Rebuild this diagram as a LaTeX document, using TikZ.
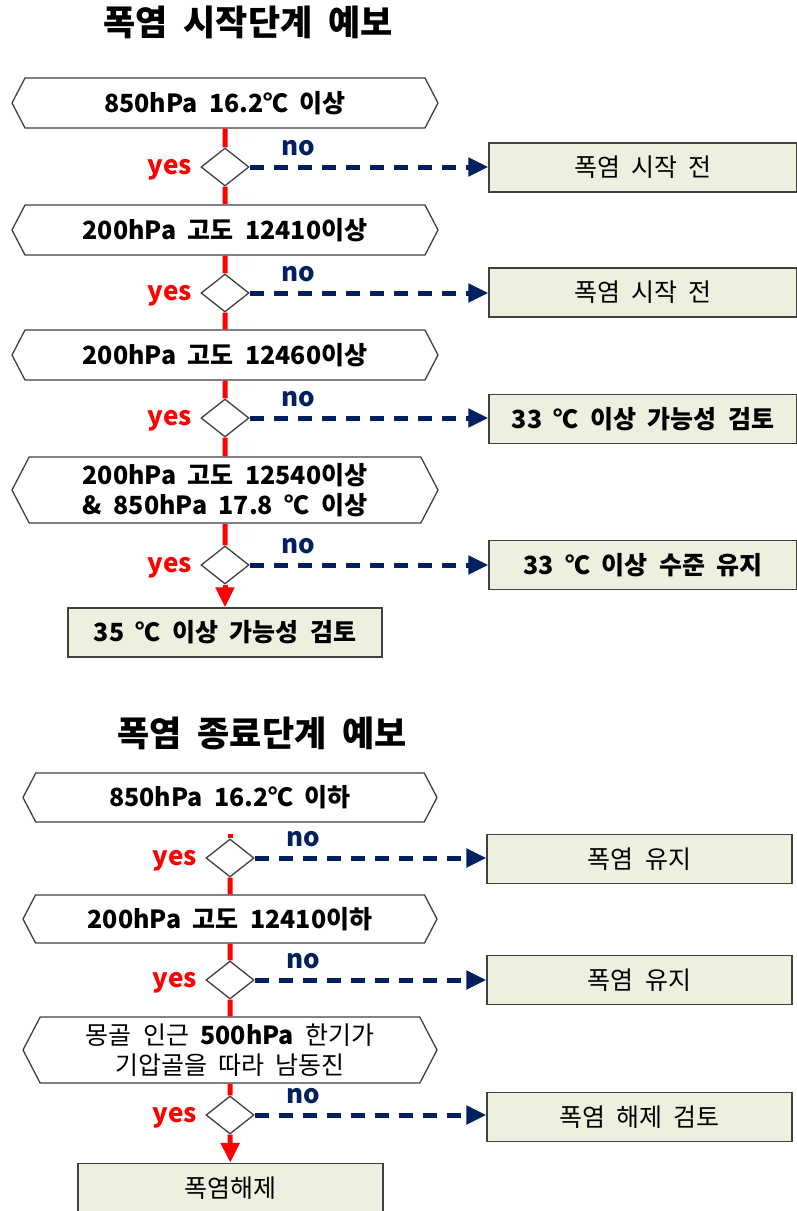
\documentclass[tikz,border=0pt]{standalone}
\usepackage{fontspec}
\setmainfont{Noto Sans CJK KR}[WordSpace=2]
\usetikzlibrary{shapes.symbols,shapes.geometric,arrows.meta,positioning}
\definecolor{navy}{RGB}{0,32,96}
\definecolor{boxgreen}{RGB}{235,241,222}
\definecolor{edgegray}{RGB}{64,64,64}

\begin{document}
\begin{tikzpicture}[x=1pt, y=-1pt,
  headline/.style={font=\fontsize{35}{40}\selectfont\bfseries, inner sep=0pt},
  cond/.style={signal, signal to=west and east, signal pointer angle=125, draw=edgegray, line width=1.3pt, fill=white, minimum height=50pt, inner sep=0pt, align=center, font=\fontsize{25}{30}\selectfont\bfseries},
  test/.style={diamond, draw=edgegray, line width=1.3pt, fill=white, minimum width=48pt, minimum height=38pt, inner sep=0pt},
  result/.style={rectangle, draw=edgegray, line width=1.3pt, fill=boxgreen, minimum height=49pt, inner sep=0pt, align=center, font=\fontsize{25}{30}\selectfont},
  yeslabel/.style={text=red, font=\fontsize{26}{30}\selectfont\bfseries, inner sep=0pt, yshift=-3pt},
  nolabel/.style={text=navy, font=\fontsize{26}{30}\selectfont\bfseries, inner sep=0pt},
  yesline/.style={red, line width=5pt},
  noline/.style={navy, line width=5pt, dash pattern=on 14pt off 10pt, -{Triangle[width=18pt,length=20pt]}}
]
\useasboundingbox (0,0) rectangle (796,1211);

% start stage
\node[headline] (title1) at (248,22) {폭염 시작단계 예보};
\node[cond, minimum width=426pt] (h1) at (225,103) {850hPa 16.2℃ 이상};
\node[test] (d1) at (225,167) {};
\node[cond, minimum width=426pt] (h2) at (225,230) {200hPa 고도 12410이상};
\node[test] (d2) at (225,293) {};
\node[cond, minimum width=426pt] (h3) at (225,355) {200hPa 고도 12460이상};
\node[test] (d3) at (225,418) {};
\node[cond, minimum width=426pt, minimum height=66pt] (h4) at (225,490) {200hPa 고도 12540이상\\\& 850hPa 17.8 ℃ 이상};
\node[test] (d4) at (225,565) {};
\node[result, minimum width=314pt, font=\fontsize{25}{30}\selectfont\bfseries] (f1) at (225,632.5) {35 ℃ 이상 가능성 검토};

\node[result, minimum width=308pt] (r1) at (643,167.5) {폭염 시작 전};
\node[result, minimum width=308pt] (r2) at (643,292.5) {폭염 시작 전};
\node[result, minimum width=308pt, font=\fontsize{25}{30}\selectfont\bfseries] (r3) at (643,419) {33 ℃ 이상 가능성 검토};
\node[result, minimum width=308pt, font=\fontsize{25}{30}\selectfont\bfseries] (r4) at (643,565) {33 ℃ 이상 수준 유지};

\node[yeslabel, left=8pt of d1] (y1) {yes};
\node[yeslabel, left=8pt of d2] (y2) {yes};
\node[yeslabel, left=8pt of d3] (y3) {yes};
\node[yeslabel, left=8pt of d4] (y4) {yes};
\node[nolabel, above right=11pt and 32pt of d1.east] (n1) {no};
\node[nolabel, above right=11pt and 32pt of d2.east] (n2) {no};
\node[nolabel, above right=11pt and 32pt of d3.east] (n3) {no};
\node[nolabel, above right=11pt and 32pt of d4.east] (n4) {no};

\draw[yesline] (h1) -- (d1);
\draw[yesline] (d1) -- (h2);
\draw[yesline] (h2) -- (d2);
\draw[yesline] (d2) -- (h3);
\draw[yesline] (h3) -- (d3);
\draw[yesline] (d3) -- (h4);
\draw[yesline] (h4) -- (d4);
\draw[yesline, -{Triangle[width=18pt,length=20pt]}] (d4) -- (f1);
\draw[noline] (d1.east) -- (d1.east -| r1.west);
\draw[noline] (d2.east) -- (d2.east -| r2.west);
\draw[noline] (d3.east) -- (d3.east -| r3.west);
\draw[noline] (d4.east) -- (d4.east -| r4.west);

% end stage
\node[headline] (title2) at (262,733) {폭염 종료단계 예보};
\node[cond, minimum width=414pt, minimum height=49pt] (h5) at (230,797.5) {850hPa 16.2℃ 이하};
\coordinate (g5) at (230,834);
\node[test] (d5) at (230,858) {};
\node[cond, minimum width=414pt, minimum height=48pt] (h6) at (230,919) {200hPa 고도 12410이하};
\node[test] (d6) at (230,980) {};
\node[cond, minimum width=414pt, minimum height=66pt, font=\fontsize{25}{30}\selectfont] (h7) at (230,1050) {몽골 인근 \textbf{500hPa} 한기가\\기압골을 따라 남동진};
\node[test] (d7) at (230,1115) {};
\node[result, minimum width=305pt] (f2) at (230.5,1188) {폭염해제};

\node[result, minimum width=305pt] (r5) at (639.5,859) {폭염 유지};
\node[result, minimum width=305pt] (r6) at (639.5,980) {폭염 유지};
\node[result, minimum width=305pt] (r7) at (639.5,1117) {폭염 해제 검토};

\node[yeslabel, left=8pt of d5] (y5) {yes};
\node[yeslabel, left=8pt of d6] (y6) {yes};
\node[yeslabel, left=8pt of d7] (y7) {yes};
\node[nolabel, above right=11pt and 32pt of d5.east] (n5) {no};
\node[nolabel, above right=11pt and 32pt of d6.east] (n6) {no};
\node[nolabel, above right=11pt and 32pt of d7.east] (n7) {no};

\draw[yesline] (g5) -- (d5);
\draw[yesline] (d5) -- (h6);
\draw[yesline] (h6) -- (d6);
\draw[yesline] (d6) -- (h7);
\draw[yesline] (h7) -- (d7);
\draw[yesline, -{Triangle[width=18pt,length=20pt]}] (d7) -- (f2);
\draw[noline] (d5.east) -- (d5.east -| r5.west);
\draw[noline] (d6.east) -- (d6.east -| r6.west);
\draw[noline] (d7.east) -- (d7.east -| r7.west);
\end{tikzpicture}
\end{document}
